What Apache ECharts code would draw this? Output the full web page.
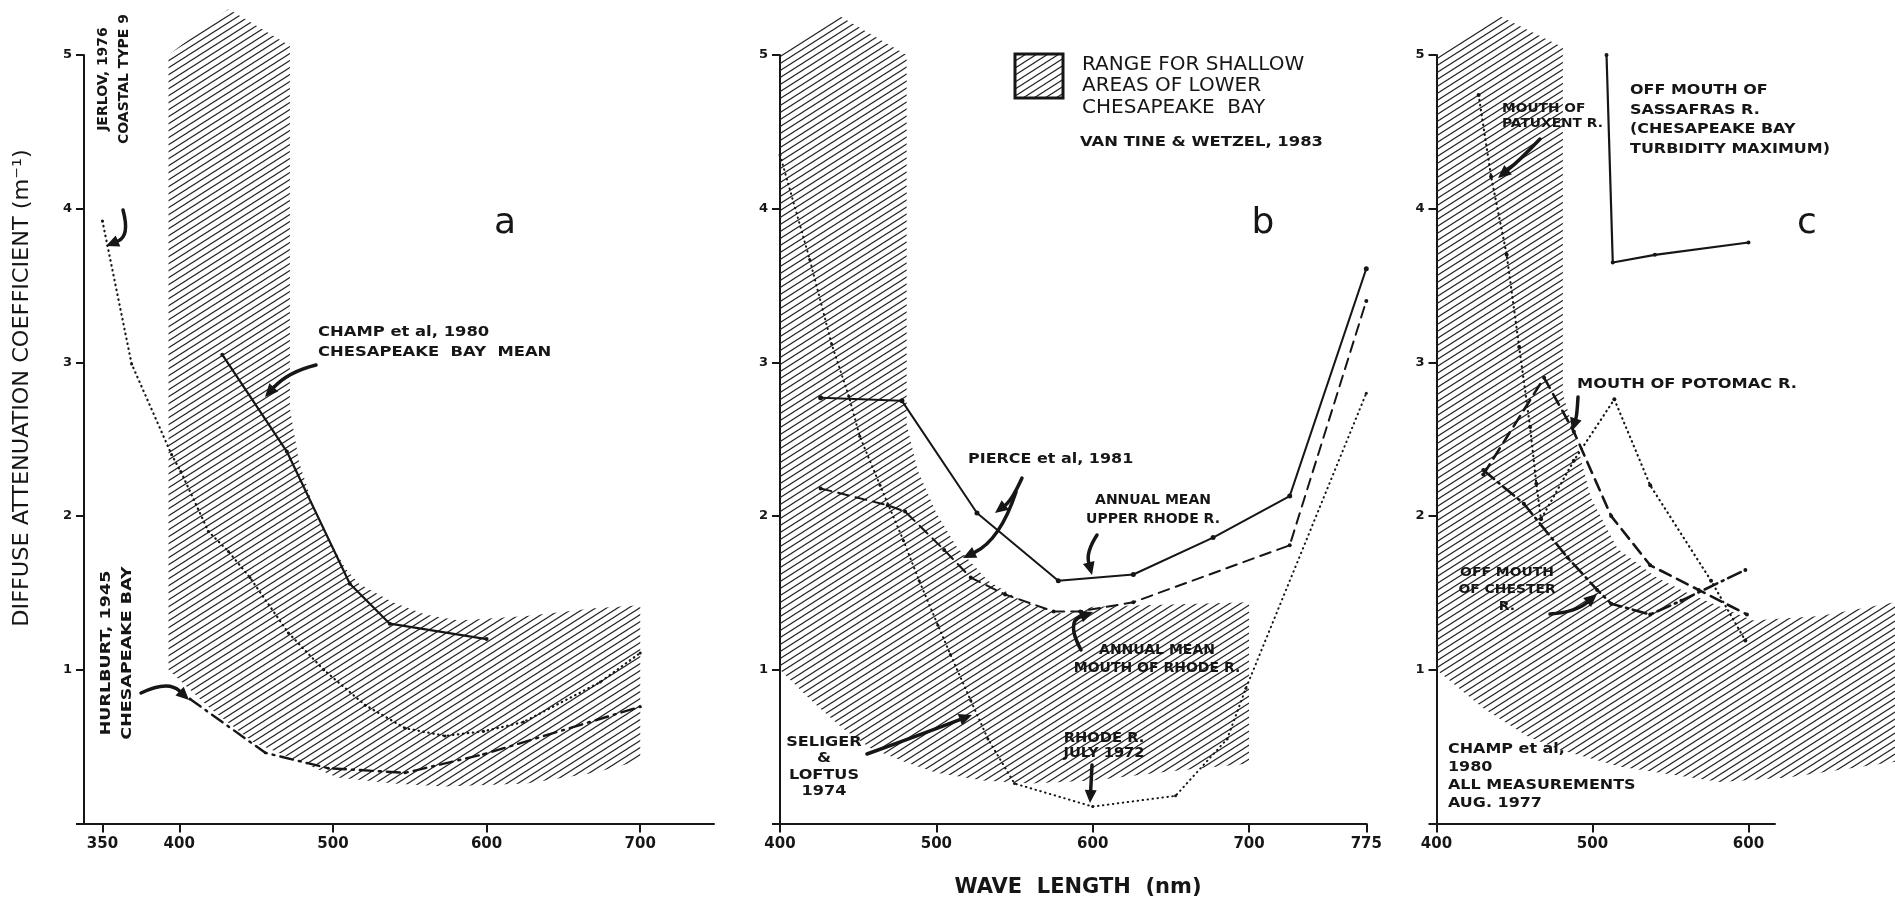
<!DOCTYPE html>
<html>
<head>
<meta charset="utf-8">
<script src="https://cdn.jsdelivr.net/npm/echarts@6/dist/echarts.min.js"></script>
<style>
html, body { margin: 0; padding: 0; background: #fff; }
#main { width: 1895px; height: 902px; }
</style>
</head>
<body>
<div id="main"></div>
<script>
// ---- panel a ----
var ticksA = [350, 400, 500, 600, 700];
var jerlovA = [[350, 3.92], [369, 2.99], [395, 2.4], [401, 2.29], [419, 1.9], [432, 1.77], [446, 1.6], [471, 1.24], [494, 1.0], [521, 0.77], [547, 0.62], [573, 0.57], [598, 0.6], [624, 0.66], [674, 0.92], [700, 1.11]];
var champA = [[428, 3.05], [470, 2.42], [511, 1.56], [537, 1.3], [600, 1.2]];
var hurlburtA = [[407, 0.81], [456, 0.46], [497, 0.36], [547, 0.33], [598, 0.45], [700, 0.76]];
var hatchA = [[393, 5.0], [432, 5.3], [472, 5.06], [472, 2.7], [478, 2.35], [490, 1.98], [508, 1.66], [517, 1.56], [539, 1.44], [560, 1.36], [582, 1.32], [626, 1.35], [670, 1.4], [700, 1.42], [700, 0.41], [670, 0.33], [626, 0.26], [572, 0.24], [540, 0.26], [503, 0.3], [448, 0.53], [420, 0.75], [393, 1.0]];

// ---- panel b ----
var ticksB = [400, 500, 600, 700, 775];
var upperRhodeB = [[426, 2.77], [478, 2.75], [526, 2.02], [578, 1.58], [626, 1.62], [677, 1.86], [726, 2.13], [775, 3.61]];
var mouthRhodeB = [[426, 2.18], [469, 2.07], [480, 2.03], [505, 1.78], [522, 1.6], [544, 1.49], [575, 1.38], [592, 1.38], [626, 1.44], [726, 1.81], [775, 3.4]];
var seligerB = [[400, 4.35], [419, 3.67], [433, 3.12], [444, 2.78], [451, 2.52], [464, 2.2], [479, 1.84], [489, 1.58], [501, 1.29], [509, 1.1], [522, 0.8], [533, 0.55], [550, 0.26], [600, 0.11], [653, 0.18], [686, 0.55], [698, 0.88], [775, 2.8]];
var hatchB = [[400, 5.02], [437, 5.26], [481, 5.0], [481, 2.6], [488, 2.3], [500, 2.02], [513, 1.8], [533, 1.58], [556, 1.44], [582, 1.36], [600, 1.41], [700, 1.44], [700, 0.39], [650, 0.34], [600, 0.28], [560, 0.26], [530, 0.28], [500, 0.33], [480, 0.4], [458, 0.49], [440, 0.62], [420, 0.8], [400, 1.0]];

// ---- panel c ----
var ticksC = [400, 500, 600];
var patuxentC = [[427, 4.74], [435, 4.21], [445, 3.7], [453, 3.1], [460, 2.58], [464, 2.21], [467, 1.98], [488, 2.36], [514, 2.76], [537, 2.2], [576, 1.58], [598, 1.19]];
var potomacC = [[430, 2.27], [469, 2.9], [488, 2.55], [512, 2.0], [537, 1.68], [568, 1.52], [599, 1.36]];
var chesterC = [[430, 2.3], [456, 2.08], [484, 1.73], [503, 1.52], [512, 1.43], [537, 1.36], [557, 1.45], [598, 1.65]];
var sassafrasC = [[509, 5.0], [513, 3.65], [540, 3.7], [600, 3.78]];
var hatchC = [[400, 4.98], [439, 5.26], [481, 5.05], [481, 2.8], [488, 2.55], [499, 2.12], [516, 1.79], [541, 1.6], [561, 1.5], [603, 1.32], [646, 1.35], [700, 1.45], [700, 0.41], [625, 0.3], [582, 0.27], [518, 0.37], [479, 0.48], [458, 0.57], [430, 0.75], [400, 1.0]];

var INK = '#161616';
var FONT = "'DejaVu Sans', 'Liberation Sans', sans-serif";

// diagonal hatch used for the shaded range
function makeHatch() {
	var w = 11, h = 7;
	var c = document.createElement('canvas');
	c.width = w;
	c.height = h;
	var ctx = c.getContext('2d');
	ctx.strokeStyle = '#222';
	ctx.lineWidth = 1.15;
	for (var k = 0; k <= 2; k++) {
		ctx.beginPath();
		ctx.moveTo(-w, k * h + h);
		ctx.lineTo(2 * w, k * h - 2 * h);
		ctx.stroke();
	}
	return c;
}
var hatchPattern = { image: makeHatch(), repeat: 'repeat' };

function hatchSeries(idx, pts) {
	return {
		type: 'custom',
		xAxisIndex: idx,
		yAxisIndex: idx,
		silent: true,
		clip: false,
		z: 1,
		data: [pts[0]],
		renderItem: function(params, api) {
			var points = pts.map(function(p) {
				return api.coord(p);
			});
			return {
				type: 'polygon',
				shape: { points: points },
				style: { fill: hatchPattern, stroke: null }
			};
		}
	};
}

function lineSeries(idx, data, dash, width, symSize) {
	return {
		type: 'line',
		xAxisIndex: idx,
		yAxisIndex: idx,
		data: data,
		z: 3,
		silent: true,
		symbol: 'circle',
		symbolSize: symSize,
		showSymbol: symSize > 0,
		itemStyle: { color: INK },
		lineStyle: { color: INK, width: width, type: dash, cap: 'round' }
	};
}

function xAxisOf(idx, min, max, ticks) {
	return {
		type: 'value',
		gridIndex: idx,
		min: min,
		max: max,
		axisLine: { show: true, onZero: false, lineStyle: { color: INK, width: 2 } },
		axisTick: { show: true, customValues: ticks, length: 9, lineStyle: { color: INK, width: 2 } },
		axisLabel: { customValues: ticks, color: INK, fontSize: 15, fontWeight: 'bold', fontFamily: FONT, margin: 13 },
		splitLine: { show: false }
	};
}

function yAxisOf(idx) {
	return {
		type: 'value',
		gridIndex: idx,
		min: 0,
		max: 5,
		interval: 1,
		axisLine: { show: true, onZero: false, lineStyle: { color: INK, width: 2 } },
		axisTick: { show: true, length: 8, lineStyle: { color: INK, width: 2 } },
		axisLabel: {
			color: INK, fontSize: 13, fontWeight: 'bold', fontFamily: FONT, margin: 12,
			formatter: function(v) { return v === 0 ? '' : v; }
		},
		splitLine: { show: false }
	};
}

function txt(x, y, text, size, opt) {
	opt = opt || {};
	return {
		type: 'text',
		x: x,
		y: y,
		rotation: opt.rot || 0,
		scaleX: opt.sx || 1,
		z: 10,
		style: {
			text: text,
			fill: INK,
			fontSize: size,
			fontWeight: opt.weight || 'bold',
			fontFamily: opt.family || FONT,
			align: opt.align || 'left',
			verticalAlign: opt.valign || 'middle',
			textAlign: opt.align || 'left',
			textVerticalAlign: opt.valign || 'middle',
			lineHeight: opt.lh || Math.round(size * 1.25)
		}
	};
}

// curved annotation arrow: tail, control point, head
function arrow(x1, y1, cx, cy, x2, y2) {
	var ang = Math.atan2(y2 - cy, x2 - cx);
	var L = 13, W = 6;
	var bx = x2 - L * Math.cos(ang), by = y2 - L * Math.sin(ang);
	var nx = -Math.sin(ang) * W, ny = Math.cos(ang) * W;
	return [{
		type: 'bezierCurve',
		z: 10,
		shape: { x1: x1, y1: y1, x2: bx, y2: by, cpx1: cx, cpy1: cy },
		style: { stroke: INK, lineWidth: 3.5, fill: null, lineCap: 'round' }
	}, {
		type: 'polygon',
		z: 10,
		shape: { points: [[x2, y2], [bx + nx, by + ny], [bx - nx, by - ny]] },
		style: { fill: INK }
	}];
}

var graphics = [];
// axis titles
graphics.push(txt(22, 388, 'DIFFUSE ATTENUATION COEFFICIENT (m\u207B\u00B9)', 22, { rot: Math.PI / 2, align: 'center', weight: 'normal', sx: 1.13, family: "'DejaVu Sans Condensed', 'Liberation Sans Narrow', 'DejaVu Sans', sans-serif" }));
graphics.push(txt(1078, 888, 'WAVE  LENGTH  (nm)', 21, { align: 'center' }));

// panel a notes
graphics.push(txt(114, 79, 'JERLOV, 1976\nCOASTAL TYPE 9', 14, { rot: Math.PI / 2, align: 'center', lh: 21 }));
graphics.push(txt(117, 653, 'HURLBURT, 1945\nCHESAPEAKE BAY', 14, { rot: Math.PI / 2, align: 'center', lh: 21, sx: 1.25 }));
graphics.push(txt(318, 342, 'CHAMP et al, 1980\nCHESAPEAKE  BAY  MEAN', 14, { lh: 20, sx: 1.17 }));
graphics.push(txt(505, 224, 'a', 36, { align: 'center', weight: 'normal' }));

// panel b notes and legend
graphics.push({
	type: 'rect',
	z: 10,
	shape: { x: 1015, y: 54, width: 48, height: 44 },
	style: { fill: hatchPattern, stroke: INK, lineWidth: 3 }
});
graphics.push(txt(1082, 86, 'RANGE FOR SHALLOW\nAREAS OF LOWER\nCHESAPEAKE  BAY', 20, { weight: 'normal', lh: 21.5 }));
graphics.push(txt(1080, 142, 'VAN TINE & WETZEL, 1983', 14, { sx: 1.17 }));
graphics.push(txt(1263, 224, 'b', 36, { align: 'center', weight: 'normal' }));
graphics.push(txt(968, 459, 'PIERCE et al, 1981', 14, { sx: 1.14 }));
graphics.push(txt(1153, 510, 'ANNUAL MEAN\nUPPER RHODE R.', 14, { align: 'center', lh: 19 }));
graphics.push(txt(1157, 659, 'ANNUAL MEAN\nMOUTH OF RHODE R.', 14, { align: 'center', lh: 18 }));
graphics.push(txt(824, 767, 'SELIGER\n&\nLOFTUS\n1974', 14, { align: 'center', lh: 16.5, sx: 1.15 }));
graphics.push(txt(1104, 746, 'RHODE R.\nJULY 1972', 14, { align: 'center', lh: 15, sx: 1.05 }));

// panel c notes
graphics.push(txt(1502, 116, 'MOUTH OF\nPATUXENT R.', 13, { lh: 15, sx: 1.06 }));
graphics.push(txt(1630, 120, 'OFF MOUTH OF\nSASSAFRAS R.\n(CHESAPEAKE BAY\nTURBIDITY MAXIMUM)', 14, { lh: 19.5, sx: 1.14 }));
graphics.push(txt(1807, 224, 'c', 36, { align: 'center', weight: 'normal' }));
graphics.push(txt(1577, 384, 'MOUTH OF POTOMAC R.', 14, { sx: 1.16 }));
graphics.push(txt(1507, 590, 'OFF MOUTH\nOF CHESTER\nR.', 13, { align: 'center', lh: 17, sx: 1.07 }));
graphics.push(txt(1448, 776, 'CHAMP et al,\n1980\nALL MEASUREMENTS\nAUG. 1977', 14, { lh: 18, sx: 1.14 }));

// arrows
var arrows = [
	[123, 210, 130, 236, 106, 246],
	[316, 365, 288, 372, 265, 397],
	[141, 693, 168, 680, 189, 700],
	[1022, 478, 1012, 500, 995, 513],
	[1016, 492, 1000, 540, 963, 558],
	[1097, 535, 1086, 552, 1092, 575],
	[1081, 650, 1066, 622, 1093, 612],
	[867, 754, 920, 735, 972, 715],
	[1092, 765, 1091, 785, 1090, 803],
	[1540, 139, 1520, 160, 1498, 178],
	[1578, 397, 1577, 415, 1572, 431],
	[1550, 614, 1576, 612, 1597, 594]
];
arrows.forEach(function(a) {
	graphics = graphics.concat(arrow(a[0], a[1], a[2], a[3], a[4], a[5]));
});

var chart = echarts.init(document.getElementById('main'));
chart.setOption({
	animation: false,
	backgroundColor: '#fff',
	grid: [
		{ left: 84, top: 55, width: 630, height: 768.5 },
		{ left: 780, top: 55, width: 586.3, height: 768.5 },
		{ left: 1436.5, top: 55, width: 338.5, height: 768.5 }
	],
	xAxis: [
		xAxisOf(0, 338, 748, ticksA),
		xAxisOf(1, 400, 775, ticksB),
		xAxisOf(2, 400, 617, ticksC)
	],
	yAxis: [yAxisOf(0), yAxisOf(1), yAxisOf(2)],
	series: [
		hatchSeries(0, hatchA),
		hatchSeries(1, hatchB),
		hatchSeries(2, hatchC),
		lineSeries(0, jerlovA, [0.5, 4.5], 2.2, 3),
		lineSeries(0, champA, 'solid', 2.2, 4),
		lineSeries(0, hurlburtA, [13, 6, 2, 6], 2.4, 3),
		lineSeries(1, upperRhodeB, 'solid', 2, 5),
		lineSeries(1, mouthRhodeB, [11, 7], 2, 4),
		lineSeries(1, seligerB, [0.5, 4.5], 2, 3),
		lineSeries(2, patuxentC, [0.5, 4.5], 2.2, 4),
		lineSeries(2, potomacC, [12, 7], 2.6, 4),
		lineSeries(2, chesterC, [14, 5, 2, 5], 2.6, 4),
		lineSeries(2, sassafrasC, 'solid', 2.2, 4)
	],
	graphic: graphics
});
</script>
</body>
</html>
